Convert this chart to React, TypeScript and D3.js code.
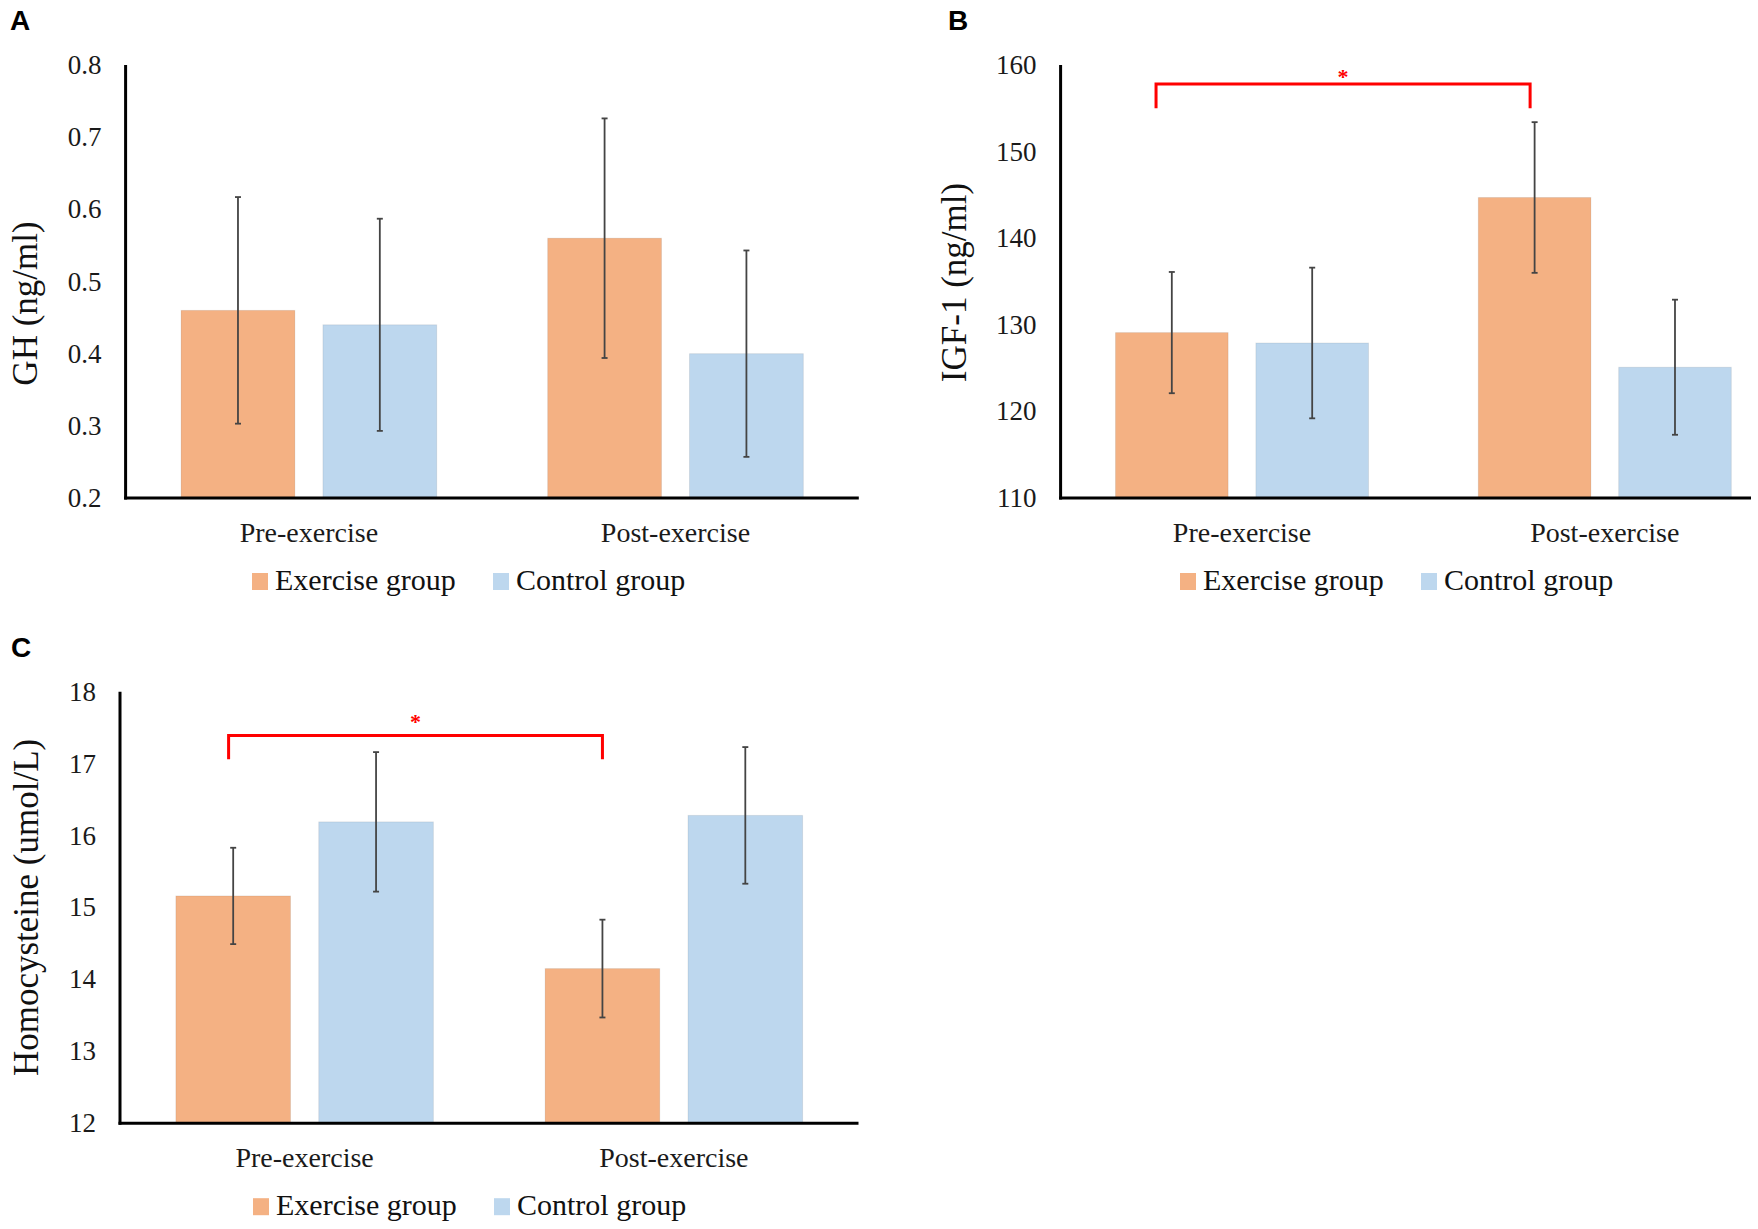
import * as d3 from "d3";

const categories = ["Pre-exercise", "Post-exercise"];
const groups = ["Exercise group", "Control group"];

const ghExercise = [0.46, 0.56];
const ghExerciseErr = [0.157, 0.166];
const ghControl = [0.44, 0.4];
const ghControlErr = [0.147, 0.143];
const ghTicks = [0.2, 0.3, 0.4, 0.5, 0.6, 0.7, 0.8];

const igfExercise = [129.1, 144.7];
const igfExerciseErr = [7.0, 8.7];
const igfControl = [127.9, 125.1];
const igfControlErr = [8.7, 7.8];
const igfTicks = [110, 120, 130, 140, 150, 160];

const hcyExercise = [15.16, 14.15];
const hcyExerciseErr = [0.67, 0.68];
const hcyControl = [16.19, 16.28];
const hcyControlErr = [0.97, 0.95];
const hcyTicks = [12, 13, 14, 15, 16, 17, 18];

const groupColors = ["#F4B183", "#BDD7EE"];
const serif = "'Liberation Serif', 'Times New Roman', serif";
const sans = "'Liberation Sans', Arial, sans-serif";

type Bracket = { top: number; drop: number; star: number; leftFrac: number; rightFrac: number };

type PanelProps = {
  letter: string;
  letterX: number;
  letterY: number;
  title: string;
  titleX: number;
  titleDy: number;
  left: number;
  bandEnd: number;
  axisEnd: number;
  top: number;
  bottom: number;
  ticks: number[];
  exercise: number[];
  exerciseErr: number[];
  control: number[];
  controlErr: number[];
  legendX: number;
  bracket?: Bracket;
};

function Panel(p: PanelProps) {
  const y = d3.scaleLinear([p.ticks[0], p.ticks[p.ticks.length - 1]], [p.bottom, p.top]);
  const x = d3.scaleBand(categories, [p.left, p.bandEnd]);
  const xs = d3.scaleBand(groups, [0, x.bandwidth()]).paddingInner(0.1975).paddingOuter(0.391);
  const series = [
    { values: p.exercise, errs: p.exerciseErr },
    { values: p.control, errs: p.controlErr }
  ];
  const bw = xs.bandwidth();
  const cap = 3;
  const exCenter = (cat: string, frac: number) => (x(cat) ?? 0) + (xs(groups[0]) ?? 0) + bw * frac;

  return (
    <g>
      <text x={p.letterX} y={p.letterY} fontFamily={sans} fontWeight="bold" fontSize={28} fill="#000">
        {p.letter}
      </text>
      {p.ticks.map((t) => (
        <text key={t} x={p.left - 24} y={y(t) + 9} textAnchor="end" fontFamily={serif} fontSize={27} fill="#1a1a1a">
          {t}
        </text>
      ))}
      <text
        transform={`translate(${p.titleX}, ${(p.top + p.bottom) / 2 + p.titleDy}) rotate(-90)`}
        textAnchor="middle"
        fontFamily={serif}
        fontSize={35}
        fill="#111"
      >
        {p.title}
      </text>
      {categories.map((cat, ci) =>
        series.map((s, si) => {
          const bx = (x(cat) ?? 0) + (xs(groups[si]) ?? 0);
          return (
            <rect
              key={`${cat}-${si}`}
              x={bx}
              y={y(s.values[ci])}
              width={bw}
              height={p.bottom - y(s.values[ci])}
              fill={groupColors[si]}
              stroke="rgba(0,0,0,0.08)"
              strokeWidth={1}
            />
          );
        })
      )}
      {categories.map((cat, ci) =>
        series.map((s, si) => {
          const cx = (x(cat) ?? 0) + (xs(groups[si]) ?? 0) + bw / 2;
          const hi = y(s.values[ci] + s.errs[ci]);
          const lo = y(s.values[ci] - s.errs[ci]);
          return (
            <g key={`err-${cat}-${si}`} stroke="#444" strokeWidth={1.8}>
              <line x1={cx} x2={cx} y1={hi} y2={lo} />
              <line x1={cx - cap} x2={cx + cap} y1={hi} y2={hi} />
              <line x1={cx - cap} x2={cx + cap} y1={lo} y2={lo} />
            </g>
          );
        })
      )}
      <line x1={p.left} x2={p.left} y1={p.top} y2={p.bottom + 1.5} stroke="#000" strokeWidth={3} />
      <line x1={p.left - 1.5} x2={p.axisEnd} y1={p.bottom} y2={p.bottom} stroke="#000" strokeWidth={3} />
      {categories.map((cat) => (
        <text
          key={cat}
          x={(x(cat) ?? 0) + x.bandwidth() / 2}
          y={p.bottom + 44}
          textAnchor="middle"
          fontFamily={serif}
          fontSize={28}
          fill="#1a1a1a"
        >
          {cat}
        </text>
      ))}
      {groups.map((g, gi) => (
        <g key={g}>
          <rect x={p.legendX + gi * 241} y={p.bottom + 75} width={16} height={17} fill={groupColors[gi]} />
          <text x={p.legendX + gi * 241 + 23} y={p.bottom + 92} fontFamily={serif} fontSize={30} fill="#111">
            {g}
          </text>
        </g>
      ))}
      {p.bracket && (
        <g>
          <path
            d={`M${exCenter(categories[0], p.bracket.leftFrac)},${y(p.bracket.drop)}V${y(p.bracket.top)}H${exCenter(
              categories[1],
              p.bracket.rightFrac
            )}V${y(p.bracket.drop)}`}
            fill="none"
            stroke="#FF0000"
            strokeWidth={3}
          />
          <text
            x={(exCenter(categories[0], p.bracket.leftFrac) + exCenter(categories[1], p.bracket.rightFrac)) / 2}
            y={y(p.bracket.star) + 11}
            textAnchor="middle"
            fontFamily={serif}
            fontWeight="bold"
            fontSize={22}
            fill="#FF0000"
          >
            *
          </text>
        </g>
      )}
    </g>
  );
}

export default function App() {
  return (
    <svg
      width={1758}
      height={1229}
      viewBox="0 0 1758 1229"
      style={{ position: "absolute", left: 0, top: 0, background: "#fff" }}
    >
      <rect width={1758} height={1229} fill="#fff" />
      <Panel
        letter="A"
        letterX={10}
        letterY={30}
        title="GH (ng/ml)"
        titleX={37}
        titleDy={22}
        left={125.6}
        bandEnd={858.8}
        axisEnd={858.8}
        top={65}
        bottom={498}
        ticks={ghTicks}
        exercise={ghExercise}
        exerciseErr={ghExerciseErr}
        control={ghControl}
        controlErr={ghControlErr}
        legendX={252}
      />
      <Panel
        letter="B"
        letterX={948}
        letterY={30}
        title="IGF-1  (ng/ml)"
        titleX={966}
        titleDy={1}
        left={1060.6}
        bandEnd={1786.2}
        axisEnd={1751}
        top={65}
        bottom={498}
        ticks={igfTicks}
        exercise={igfExercise}
        exerciseErr={igfExerciseErr}
        control={igfControl}
        controlErr={igfControlErr}
        legendX={1180}
        bracket={{ top: 157.8, drop: 155.0, star: 159.1, leftFrac: 0.36, rightFrac: 0.46 }}
      />
      <Panel
        letter="C"
        letterX={11}
        letterY={657}
        title="Homocysteine (umol/L)"
        titleX={38}
        titleDy={0}
        left={120}
        bandEnd={858.5}
        axisEnd={858.5}
        top={691.7}
        bottom={1123.2}
        ticks={hcyTicks}
        exercise={hcyExercise}
        exerciseErr={hcyExerciseErr}
        control={hcyControl}
        controlErr={hcyControlErr}
        legendX={253}
        bracket={{ top: 17.39, drop: 17.06, star: 17.64, leftFrac: 0.46, rightFrac: 0.5 }}
      />
    </svg>
  );
}
